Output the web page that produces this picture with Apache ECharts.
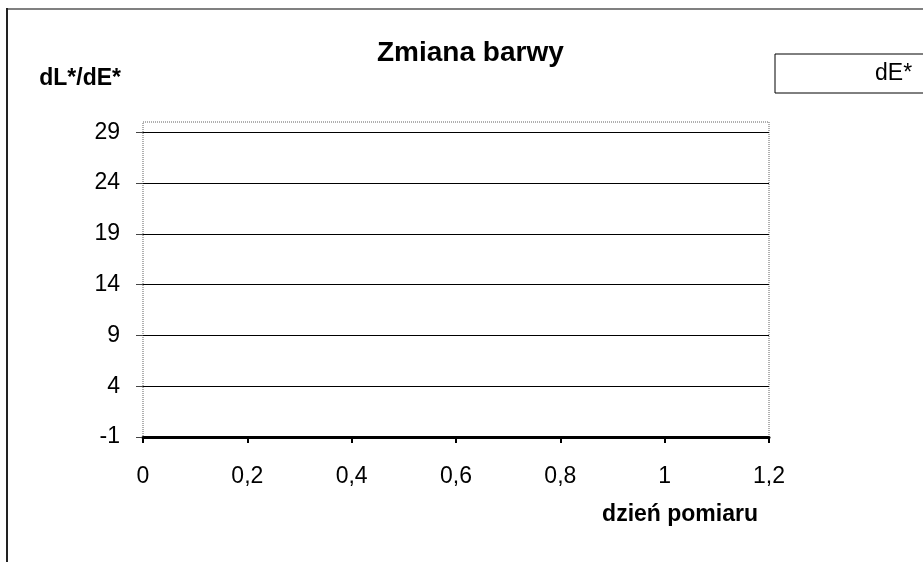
<!DOCTYPE html>
<html>
<head>
<meta charset="utf-8">
<script src="https://cdn.jsdelivr.net/npm/echarts@6/dist/echarts.min.js"></script>
<style>
html, body { margin: 0; padding: 0; background: #fff; }
#chart { width: 923px; height: 562px; }
</style>
</head>
<body>
<div id="chart"></div>
<script>
// Data (the reference chart has no plotted points)
const seriesName = 'dE*';
const dayValues = [];
const dEValues = [];
const yTickValues = [-1, 4, 9, 14, 19, 24, 29];
const xTickValues = [0, 0.2, 0.4, 0.6, 0.8, 1, 1.2];
const titleText = 'Zmiana barwy';
const yAxisName = 'dL*/dE*';
const xAxisName = 'dzień pomiaru';

const FONT = '"Liberation Sans", Arial, sans-serif';

const seriesData = dayValues.map((d, i) => [d, dEValues[i]]);

const chart = echarts.init(document.getElementById('chart'), null, { renderer: 'canvas' });

chart.setOption({
  animation: false,
  backgroundColor: '#ffffff',
  title: {
    text: titleText,
    left: 377,
    top: 39,
    padding: 0,
    textStyle: { fontFamily: FONT, fontSize: 28, fontWeight: 'bold', color: '#000' }
  },
  legend: {
    data: [seriesName],
    left: 775,
    top: 54,
    padding: [8, 60, 8, 0],
    icon: 'none',
    itemWidth: 95,
    itemHeight: 14,
    borderColor: '#000',
    borderWidth: 1,
    textStyle: { fontFamily: FONT, fontSize: 23, color: '#000' }
  },
  grid: {
    left: 143,
    right: 154,
    top: 122,
    bottom: 125,
    show: true,
    borderColor: '#606060',
    borderWidth: 1,
    borderType: 'dotted',
    containLabel: false
  },
  xAxis: {
    type: 'value',
    min: xTickValues[0],
    max: xTickValues[xTickValues.length - 1],
    interval: 0.2,
    name: xAxisName,
    nameLocation: 'end',
    nameGap: -11,
    nameMoveOverlap: false,
    nameTextStyle: {
      fontFamily: FONT, fontSize: 23, fontWeight: 'bold', color: '#000',
      align: 'right', verticalAlign: 'top', padding: [66, 0, 0, 0]
    },
    axisLine: { show: true, onZero: false, lineStyle: { color: '#000', width: 3 } },
    axisTick: { show: true, length: 6, lineStyle: { color: '#000', width: 2 } },
    axisLabel: {
      show: true, margin: 28,
      fontFamily: FONT, fontSize: 23, color: '#000',
      formatter: v => String(Number(v.toFixed(1))).replace('.', ',')
    },
    splitLine: { show: false }
  },
  yAxis: {
    type: 'value',
    min: -1,
    max: 30,
    name: yAxisName,
    nameLocation: 'end',
    nameGap: 43,
    nameMoveOverlap: false,
    nameTextStyle: {
      fontFamily: FONT, fontSize: 23, fontWeight: 'bold', color: '#000',
      align: 'right', verticalAlign: 'middle', padding: [0, 22, 0, 0]
    },
    axisLine: { show: false },
    axisTick: { show: true, length: 7, customValues: yTickValues, lineStyle: { color: '#444', width: 1 } },
    axisLabel: {
      show: true, margin: 23, customValues: yTickValues,
      fontFamily: FONT, fontSize: 23, color: '#000'
    },
    splitLine: { show: true, lineStyle: { color: '#000', width: 1 } }
  },
  series: [{
    name: seriesName,
    type: 'line',
    data: seriesData,
    showSymbol: false,
    lineStyle: { color: '#000080', width: 2 },
    itemStyle: { color: '#000080' }
  }],
  graphic: [
    { type: 'line', silent: true, shape: { x1: 7, y1: 9, x2: 930, y2: 9 }, style: { stroke: '#808080', lineWidth: 2 } },
    { type: 'line', silent: true, shape: { x1: 7, y1: 8, x2: 7, y2: 570 }, style: { stroke: '#222', lineWidth: 2 } }
  ]
});
</script>
</body>
</html>
